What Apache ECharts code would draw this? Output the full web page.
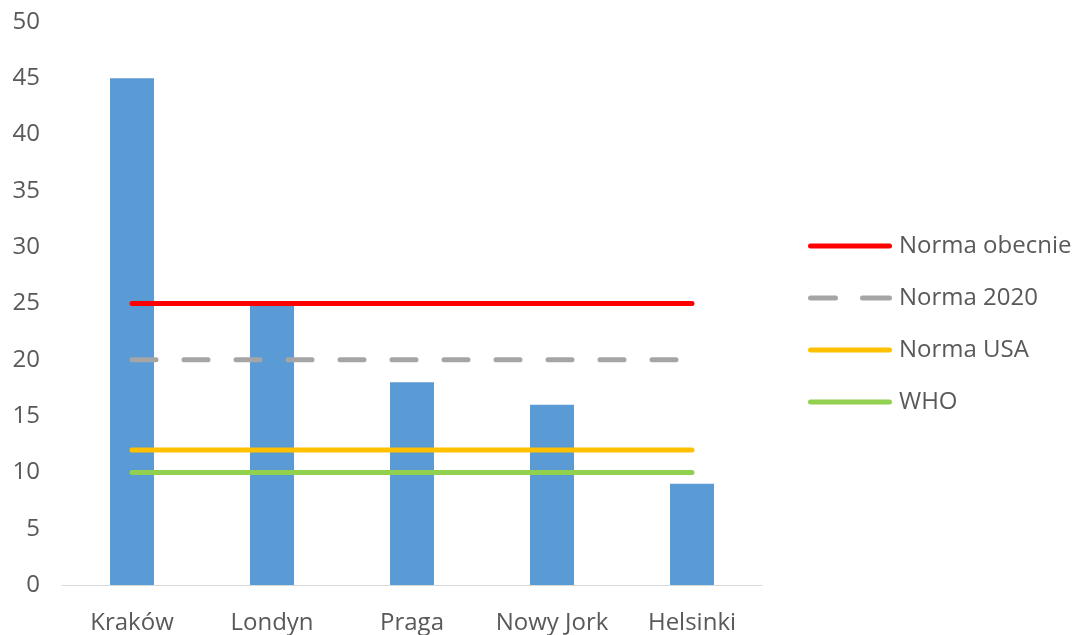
<!DOCTYPE html>
<html>
<head>
<meta charset="utf-8">
<script src="https://cdn.jsdelivr.net/npm/echarts@6/dist/echarts.min.js"></script>
<style>
  html, body { margin: 0; padding: 0; background: #fff; }
  #chart { width: 1073px; height: 635px; }
</style>
</head>
<body>
<div id="chart"></div>
<script>
// PM2.5 levels per city with reference limits
const cities = ['Kraków', 'Londyn', 'Praga', 'Nowy Jork', 'Helsinki'];
const cityValues = [45, 25, 18, 16, 9];

const limitNames = ['Norma obecnie', 'Norma 2020', 'Norma USA', 'WHO'];
const limitValues = [25, 20, 12, 10];
const limitColors = ['#FF0000', '#A5A5A5', '#FFC000', '#92D050'];

const textColor = '#595959';
const fontFamily = '"Open Sans", sans-serif';
const fontSize = 24;

// legend glyphs: a rounded bar, or two rounded dashes for the dashed limit
const solidIcon = 'path://M2.5,0H81.5A2.5,2.5 0 0 1 81.5,5H2.5A2.5,2.5 0 0 1 2.5,0Z';
const dashIcon = 'path://M2.5,0H27.5A2.5,2.5 0 0 1 27.5,5H2.5A2.5,2.5 0 0 1 2.5,0Z' +
  'M54.5,0H81.5A2.5,2.5 0 0 1 81.5,5H54.5A2.5,2.5 0 0 1 54.5,0Z';

const limitSeries = limitNames.map((name, i) => ({
  name: name,
  type: 'line',
  data: cities.map(() => limitValues[i]),
  symbol: 'none',
  z: 3,
  lineStyle: {
    color: limitColors[i],
    width: 5,
    cap: 'round',
    type: i === 1 ? [24, 28] : 'solid'
  },
  itemStyle: { color: limitColors[i] }
}));

const chart = echarts.init(document.getElementById('chart'));
chart.setOption({
  animation: false,
  grid: { left: 62, right: 311, top: 22, bottom: 50 },
  legend: {
    orient: 'vertical',
    left: 803,
    top: 229,
    itemWidth: 84,
    itemHeight: 5,
    itemGap: 28,
    data: limitNames.map((n, i) => ({
      name: n,
      icon: i === 1 ? dashIcon : solidIcon,
      itemStyle: { color: limitColors[i], borderWidth: 0 }
    })),
    textStyle: { color: textColor, fontSize: fontSize, fontFamily: fontFamily, padding: [0, 0, 0, 2] }
  },
  xAxis: {
    type: 'category',
    data: cities,
    axisLine: { lineStyle: { color: '#D9D9D9', width: 1 } },
    axisTick: { show: false },
    axisLabel: { interval: 0, color: textColor, fontSize: fontSize, fontFamily: fontFamily, margin: 26 }
  },
  yAxis: {
    type: 'value',
    min: 0,
    max: 50,
    interval: 5,
    splitLine: { show: false },
    axisLine: { show: false },
    axisTick: { show: false },
    axisLabel: { color: textColor, fontSize: fontSize, fontFamily: fontFamily, margin: 22 }
  },
  series: [
    {
      name: 'PM2.5',
      type: 'bar',
      data: cityValues,
      barWidth: 44,
      itemStyle: { color: '#5B9BD5' },
      z: 2
    },
    ...limitSeries
  ]
});
</script>
</body>
</html>
